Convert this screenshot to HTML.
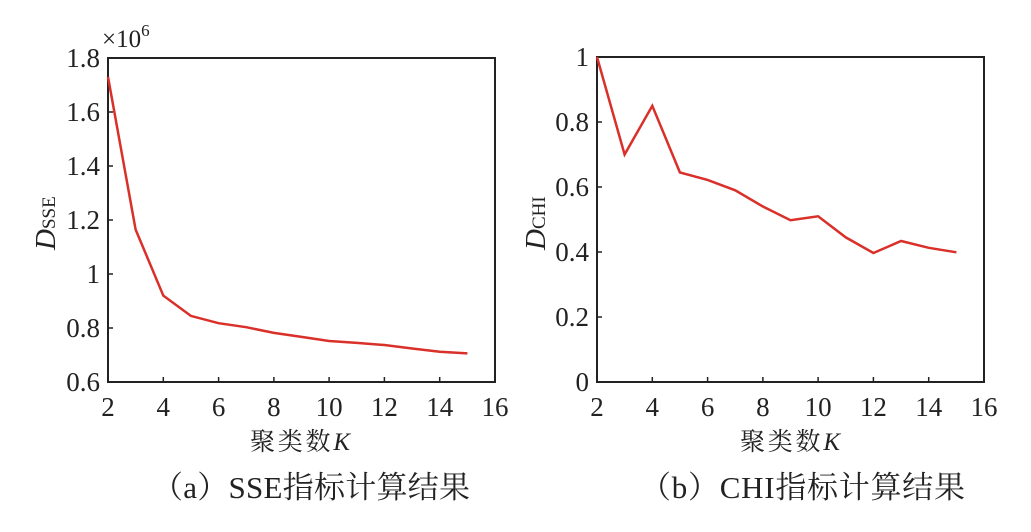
<!DOCTYPE html><html><head><meta charset="utf-8"><style>body{margin:0;background:#fff}</style></head><body>
<svg width="1031" height="527" xmlns="http://www.w3.org/2000/svg" font-family="Liberation Serif, Noto Serif CJK SC, serif" fill="#222">
<g>
<rect x="108" y="58" width="387" height="324" fill="none" stroke="#222" stroke-width="2"/>
<g stroke="#222" stroke-width="1.5">
<path d="M163.3 382v-5M218.6 382v-5M273.9 382v-5M329.1 382v-5M384.4 382v-5M439.7 382v-5M108 328h5M108 274h5M108 220h5M108 166h5M108 112h5"/>
</g>
<g font-size="27" text-anchor="middle">
<text x="108" y="416">2</text><text x="163.3" y="416">4</text><text x="218.6" y="416">6</text><text x="273.9" y="416">8</text><text x="329.1" y="416">10</text><text x="384.4" y="416">12</text><text x="439.7" y="416">14</text><text x="495" y="416">16</text>
</g>
<g font-size="27" text-anchor="end">
<text x="100" y="391">0.6</text><text x="100" y="337">0.8</text><text x="100" y="283">1</text><text x="100" y="229">1.2</text><text x="100" y="175">1.4</text><text x="100" y="121">1.6</text><text x="100" y="67">1.8</text>
</g>
<text x="102" y="47" font-size="25">×10<tspan font-size="17" dy="-11">6</tspan></text>
<text transform="translate(55,250) rotate(-90)" font-size="29" font-style="italic">D<tspan font-style="normal" font-size="19">SSE</tspan></text>
<polyline fill="none" stroke="#d9302a" stroke-width="2.5" points="108,76.9 135.6,229.5 163.3,295.6 190.9,315.9 218.6,323.2 246.2,327.2 273.9,332.9 301.5,336.9 329.1,341 356.8,342.9 384.4,345 412.1,348.5 439.7,351.8 467.4,353.4"/>
<text x="250" y="450" font-size="25" textLength="100">聚类数<tspan font-style="italic">K</tspan></text>
<text x="152" y="498" font-size="31" textLength="318">（a）SSE指标计算结果</text>
</g>
<g>
<rect x="597" y="57" width="387" height="325" fill="none" stroke="#222" stroke-width="2"/>
<g stroke="#222" stroke-width="1.5">
<path d="M652.3 382v-5M707.6 382v-5M762.9 382v-5M818.1 382v-5M873.4 382v-5M928.7 382v-5M597 317h5M597 252h5M597 187h5M597 122h5"/>
</g>
<g font-size="27" text-anchor="middle">
<text x="597" y="416">2</text><text x="652.3" y="416">4</text><text x="707.6" y="416">6</text><text x="762.9" y="416">8</text><text x="818.1" y="416">10</text><text x="873.4" y="416">12</text><text x="928.7" y="416">14</text><text x="984" y="416">16</text>
</g>
<g font-size="27" text-anchor="end">
<text x="589" y="391">0</text><text x="589" y="326">0.2</text><text x="589" y="261">0.4</text><text x="589" y="196">0.6</text><text x="589" y="131">0.8</text><text x="589" y="66">1</text>
</g>
<text transform="translate(545,250) rotate(-90)" font-size="29" font-style="italic">D<tspan font-style="normal" font-size="19">CHI</tspan></text>
<polyline fill="none" stroke="#d9302a" stroke-width="2.5" points="597,57 624.6,154.5 652.3,105.8 679.9,172.4 707.6,179.9 735.2,190.3 762.9,206.5 790.5,220.2 818.1,216.3 845.8,237.4 873.4,253 901.1,241 928.7,247.8 956.4,252.3"/>
<text x="740" y="450" font-size="25" textLength="100">聚类数<tspan font-style="italic">K</tspan></text>
<text x="640" y="498" font-size="31" textLength="325">（b）CHI指标计算结果</text>
</g>
</svg>
</body></html>
